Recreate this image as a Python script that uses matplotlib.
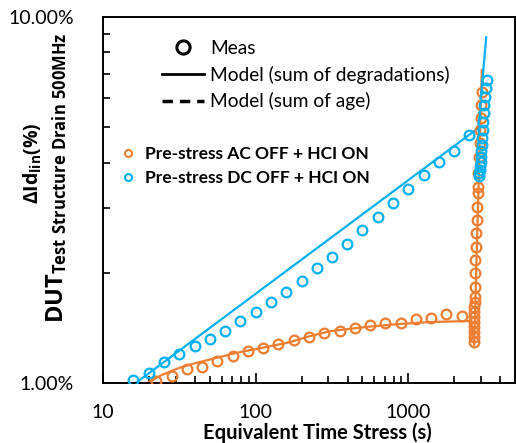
import numpy as np
import matplotlib.pyplot as plt
from matplotlib.lines import Line2D
from matplotlib.legend_handler import HandlerLine2D
from matplotlib.ticker import FixedLocator, FixedFormatter, NullFormatter

plt.rcParams['font.family'] = ['Lato', 'DejaVu Sans']
plt.rcParams['mathtext.fontset'] = 'custom'
plt.rcParams['mathtext.rm'] = 'Open Sans'
plt.rcParams['mathtext.bf'] = 'Open Sans:bold'

orange = '#ED7D31'
blue = '#00B0F0'

# pre-stress AC OFF + HCI ON : measured
ac_t = [22.4, 28.2, 35.5, 44.7, 56.2, 70.8, 89.1, 112, 141, 178, 224, 282, 355, 447,
        562, 708, 891, 1122, 1413, 1778, 2239,
        2690, 2695, 2700, 2700, 2705, 2705, 2710, 2710, 2715, 2720, 2730, 2740, 2750,
        2760, 2780, 2800, 2820, 2840, 2850, 2870, 2900, 2930, 2960, 2990, 3010, 3040]
ac_v = [1.013, 1.045, 1.092, 1.106, 1.148, 1.185, 1.223, 1.246, 1.278, 1.311, 1.336,
        1.370, 1.387, 1.413, 1.440, 1.459, 1.459, 1.496, 1.505, 1.543, 1.524,
        1.294, 1.336, 1.378, 1.422, 1.468, 1.515, 1.563, 1.613, 1.664, 1.718, 1.828,
        1.998, 2.168, 2.353, 2.57, 2.786, 3.026, 3.30, 3.43, 3.75, 4.145, 4.53, 4.91,
        5.30, 5.75, 6.24]
# model
ac_model_t = [19.4, 24.3, 31.4, 40.5, 54.8, 74.0, 109, 164, 222, 314, 524, 861, 1413, 2582, 2700, 3030]
ac_model_v = [1.0, 1.052, 1.099, 1.134, 1.170, 1.208, 1.246, 1.290, 1.340, 1.387, 1.422,
              1.449, 1.468, 1.477, 1.27, 7.16]

# pre-stress DC OFF + HCI ON : measured
dc_t = [15.8, 20, 25.1, 31.6, 39.8, 50.1, 63.1, 79.4, 100, 126, 158, 200, 251, 316, 398,
        501, 631, 794, 1000, 1259, 1585, 1995, 2512,
        2911, 2911, 2956, 2956, 3001, 3001, 3001, 3046, 3046, 3093, 3093, 3139, 3139,
        3187, 3235, 3284]
dc_v = [1.019, 1.065, 1.14, 1.20, 1.26, 1.32, 1.39, 1.48, 1.56, 1.66, 1.77, 1.90, 2.06,
        2.21, 2.40, 2.62, 2.84, 3.10, 3.39, 3.70, 4.02, 4.30, 4.76,
        3.68, 3.75, 3.82, 3.92, 4.02, 4.145, 4.30, 4.47, 4.67, 4.91, 5.16, 5.47, 5.75,
        6.04, 6.40, 6.73]
dc_model_t = [16.4, 2870, 3240]
dc_model_v = [1.0, 4.97, 8.8]


class RightMarker(HandlerLine2D):
    # marker sits at the right part of the handle, like the excel legend
    def get_xdata(self, legend, xdescent, ydescent, width, height, fontsize):
        return [-xdescent, -xdescent + width], [-xdescent + width * 0.82]


fig = plt.figure(figsize=(5.16, 4.43), dpi=100)
ax = fig.add_axes([103/516, 60/443, 412/516, 366/443])

ax.plot(ac_model_t, ac_model_v, color=orange, lw=1.6, zorder=2)
ax.plot(dc_model_t, dc_model_v, color=blue, lw=1.6, zorder=2)
ax.plot(ac_t, ac_v, 'o', mfc='none', mec=orange, mew=1.6, ms=7, zorder=3)
ax.plot(dc_t, dc_v, 'o', mfc='none', mec=blue, mew=1.6, ms=7, zorder=3)

ax.set_xscale('log')
ax.set_yscale('log')
ax.set_xlim(10, 5000)
ax.set_ylim(1, 10)

ax.yaxis.set_major_locator(FixedLocator([1, 10]))
ax.yaxis.set_major_formatter(FixedFormatter(['1.00%', '10.00%']))
ax.yaxis.set_minor_locator(FixedLocator([2, 3, 4, 5, 6, 7, 8, 9]))
ax.yaxis.set_minor_formatter(NullFormatter())
ax.xaxis.set_major_locator(FixedLocator([10, 100, 1000]))
ax.xaxis.set_major_formatter(FixedFormatter(['10', '100', '1000']))
ax.tick_params(which='both', direction='in', width=1.2, labelsize=14)
ax.tick_params(axis='y', which='major', length=0, pad=21)
ax.tick_params(axis='x', which='major', length=7, pad=15)
ax.tick_params(which='minor', length=5)
for s in ax.spines.values():
    s.set_linewidth(1.4)

fig.text(317/516, 1 - 433/443, 'Equivalent Time Stress (s)', ha='center', va='center',
         fontsize=14.5, fontweight='bold')
fig.text(33/516, 1 - 163/443, r'$\mathbf{\Delta Id_{lin}(\%)}$', rotation=90,
         ha='center', va='center', fontsize=14)
fig.text(57/516, 1 - 178/443, r'$\mathbf{DUT_{Test\ Structure\ Drain\ 500MHz}}$',
         rotation=90, ha='center', va='center', fontsize=17)

h1 = [Line2D([], [], ls='none', marker='o', mfc='none', mec='black', mew=2.2, ms=9.5),
      Line2D([], [], color='black', lw=2),
      Line2D([], [], color='black', lw=2.5, ls=(0, (3, 2)))]
leg1 = ax.legend(h1, ['Meas', 'Model (sum of degradations)', 'Model (sum of age)'],
                 loc='upper left', bbox_to_anchor=(0.142, 0.937), frameon=False,
                 fontsize=13.8, handlelength=2.2, handletextpad=0.35, labelspacing=0.45,
                 borderpad=0, borderaxespad=0, handler_map={h1[0]: RightMarker()})
ax.add_artist(leg1)

h2 = [Line2D([], [], ls='none', marker='o', mfc='none', mec=orange, mew=1.5, ms=5),
      Line2D([], [], ls='none', marker='o', mfc='none', mec=blue, mew=1.5, ms=5)]
ax.legend(h2, ['Pre-stress AC OFF + HCI ON', 'Pre-stress DC OFF + HCI ON'],
          loc='upper left', bbox_to_anchor=(0.045, 0.648), frameon=False,
          prop={'size': 12.5, 'weight': 'bold'}, handlelength=0.8, handletextpad=0.55,
          labelspacing=0.45, borderpad=0, borderaxespad=0)

fig.savefig('out.png', dpi=100)
